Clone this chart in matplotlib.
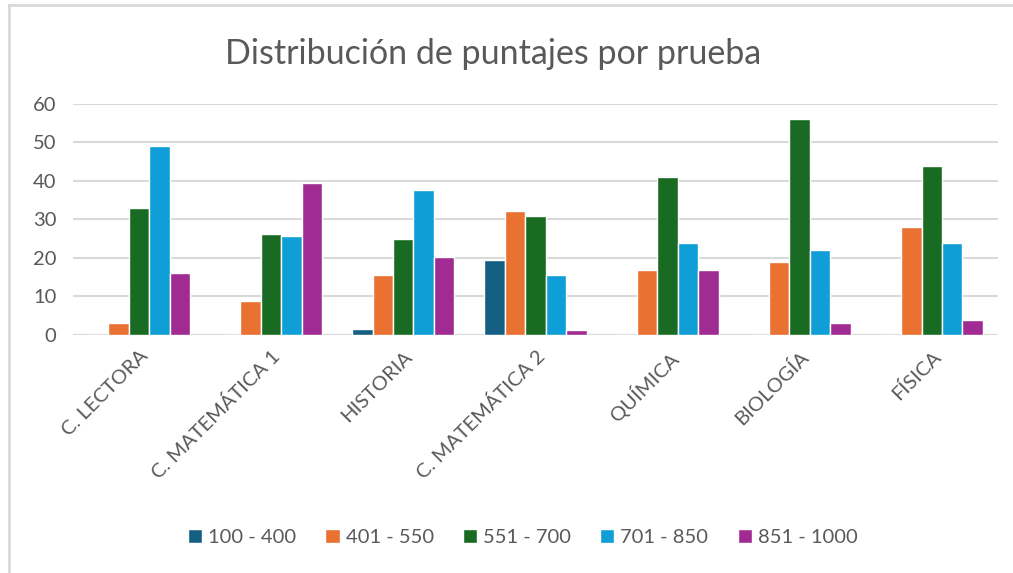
import numpy as np
import matplotlib.pyplot as plt
from matplotlib.lines import Line2D

plt.rcParams['font.family'] = ['Lato', 'DejaVu Sans']

categories = ['C. LECTORA', 'C. MATEMÁTICA 1', 'HISTORIA', 'C. MATEMÁTICA 2',
              'QUÍMICA', 'BIOLOGÍA', 'FÍSICA']
series_names = ['100 - 400', '401 - 550', '551 - 700', '701 - 850', '851 - 1000']

s_100_400 = [0, 0, 1.5, 19.6, 0, 0, 0]
s_401_550 = [3, 8.7, 15.6, 32.3, 17, 19, 28]
s_551_700 = [33, 26.3, 25, 31, 41, 56, 44]
s_701_850 = [49, 25.6, 37.6, 15.6, 24, 22, 24]
s_851_1000 = [16, 39.6, 20.3, 1.2, 17, 3, 4]

colors = ['#156082', '#E97132', '#196B24', '#0F9ED5', '#A02B93']
text_gray = '#595959'

fig = plt.figure(figsize=(10.13, 5.73), dpi=100)
ax = fig.add_axes([0.072, 0.4154, 0.913, 0.4031])

x = np.arange(len(categories))
step = 0.155
all_series = [s_100_400, s_401_550, s_551_700, s_701_850, s_851_1000]
for i, (vals, name) in enumerate(zip(all_series, series_names)):
    ax.bar(x + (i - 2) * step, vals, width=step, color=colors[i],
           edgecolor='white', linewidth=1.0, label=name, zorder=3)

ax.set_xlim(-0.5, len(categories) - 0.5)
ax.set_ylim(0, 60)
ax.set_yticks(range(0, 61, 10))
ax.yaxis.grid(True, color='#D9D9D9', linewidth=1.5, zorder=0)
for s in ax.spines.values():
    s.set_visible(False)
ax.axhline(0, color='#D9D9D9', linewidth=1.5, zorder=1)
ax.tick_params(axis='both', length=0, labelsize=14.5, colors=text_gray)
ax.tick_params(axis='y', pad=12)
ax.set_xticks(x)
ax.set_xticklabels(categories, rotation=45, ha='right', rotation_mode='anchor')
ax.tick_params(axis='x', pad=9)

fig.text(0.487, 0.906, 'Distribución de puntajes por prueba', ha='center',
         va='center', fontsize=24.5, color=text_gray)

leg = fig.legend(loc='center', bbox_to_anchor=(0.516, 0.062), ncol=5,
                 frameon=False, fontsize=14.5, handlelength=0.7, handleheight=0.7,
                 handletextpad=0.3, columnspacing=1.45)
for t in leg.get_texts():
    t.set_color(text_gray)

# chart border (top and left edges visible)
fig.add_artist(Line2D([9 / 1013, 1], [1 - 5 / 573, 1 - 5 / 573],
                      transform=fig.transFigure, color='#D9D9D9', lw=2))
fig.add_artist(Line2D([9 / 1013, 9 / 1013], [0, 1 - 5 / 573],
                      transform=fig.transFigure, color='#D9D9D9', lw=2))

plt.savefig('out.png', dpi=100)
